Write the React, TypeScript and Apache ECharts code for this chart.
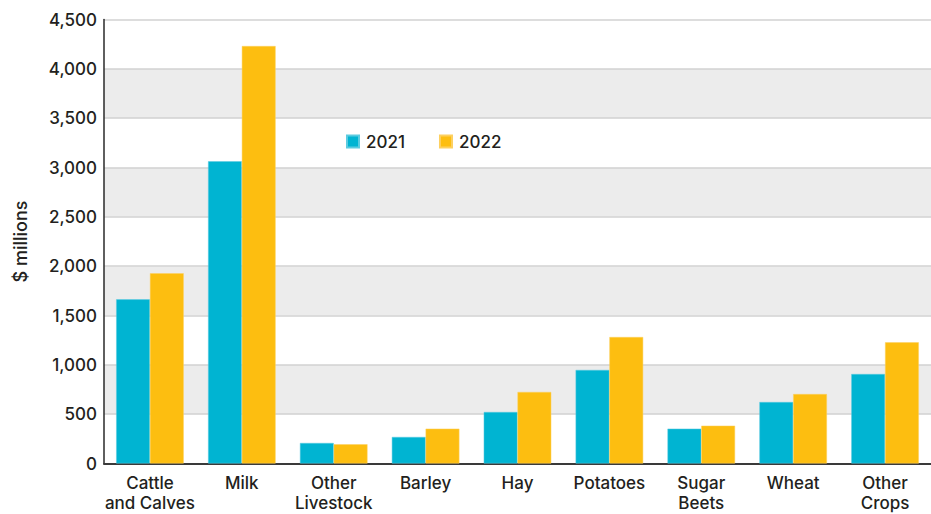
import React, { useEffect, useRef } from "react";
import * as echarts from "echarts";

const categories = [
  "Cattle\nand Calves",
  "Milk",
  "Other\nLivestock",
  "Barley",
  "Hay",
  "Potatoes",
  "Sugar\nBeets",
  "Wheat",
  "Other\nCrops",
];
const values2021 = [1664, 3063, 208, 269, 522, 948, 353, 623, 907];
const values2022 = [1928, 4231, 195, 353, 725, 1282, 383, 704, 1228];
const seriesNames = ["2021", "2022"];
const yTicks = { min: 0, max: 4500, interval: 500 };

const FONT = "Inter, 'Liberation Sans', sans-serif";
const TEXT = "#231f20";

export default function App() {
  const ref = useRef<HTMLDivElement>(null);
  useEffect(() => {
    if (!ref.current) return;
    const chart = echarts.init(ref.current, undefined, { renderer: "svg" });
    chart.setOption({
      animation: false,
      textStyle: { fontFamily: FONT },
      legend: {
        left: 346,
        top: 133,
        padding: 0,
        itemWidth: 12,
        itemHeight: 12,
        itemGap: 34,
        icon: "rect",
        textStyle: { fontFamily: FONT, fontSize: 17, fontWeight: 500, color: TEXT, padding: [0, 0, 0, 2] },
        data: seriesNames,
      },
      grid: { left: 104, right: 0, top: 19.5, bottom: 50.5, containLabel: false, outerBoundsMode: "none" },
      xAxis: {
        type: "category",
        data: categories,
        axisLine: { show: true, lineStyle: { color: "#3a3a3a", width: 2 } },
        axisTick: { show: false },
        axisLabel: {
          fontFamily: FONT,
          fontSize: 17,
          fontWeight: 500,
          color: TEXT,
          lineHeight: 20,
          margin: 9,
          interval: 0,
        },
      },
      yAxis: {
        type: "value",
        min: yTicks.min,
        max: yTicks.max,
        interval: yTicks.interval,
        name: "$ millions",
        nameLocation: "middle",
        nameGap: 75,
        nameTextStyle: { fontFamily: FONT, fontSize: 18, fontWeight: 500, color: TEXT },
        axisLine: { show: true, lineStyle: { color: "#2a2a2a", width: 1.5 } },
        axisTick: { show: false },
        axisLabel: {
          fontFamily: FONT,
          fontSize: 17,
          fontWeight: 500,
          color: TEXT,
          margin: 7,
          formatter: (v: number) => v.toLocaleString("en-US"),
        },
        splitLine: { show: true, lineStyle: { color: "#d2d2d2", width: 1.5 } },
        splitArea: { show: true, areaStyle: { color: ["#ffffff", "#ececec"] } },
      },
      series: [
        {
          name: seriesNames[0],
          type: "bar",
          data: values2021,
          barGap: "0%",
          barCategoryGap: "26.5%",
          itemStyle: { color: "#00b4d2", borderColor: "#5ccbe0", borderWidth: 0.5 },
        },
        {
          name: seriesNames[1],
          type: "bar",
          data: values2022,
          barGap: "0%",
          barCategoryGap: "26.5%",
          itemStyle: { color: "#fdbe10", borderColor: "#fdd060", borderWidth: 0.5 },
        },
      ],
    });
    return () => chart.dispose();
  }, []);
  return (
    <div
      ref={ref}
      style={{ position: "fixed", left: 0, top: 0, width: 931, height: 514, background: "#fff" }}
    />
  );
}
